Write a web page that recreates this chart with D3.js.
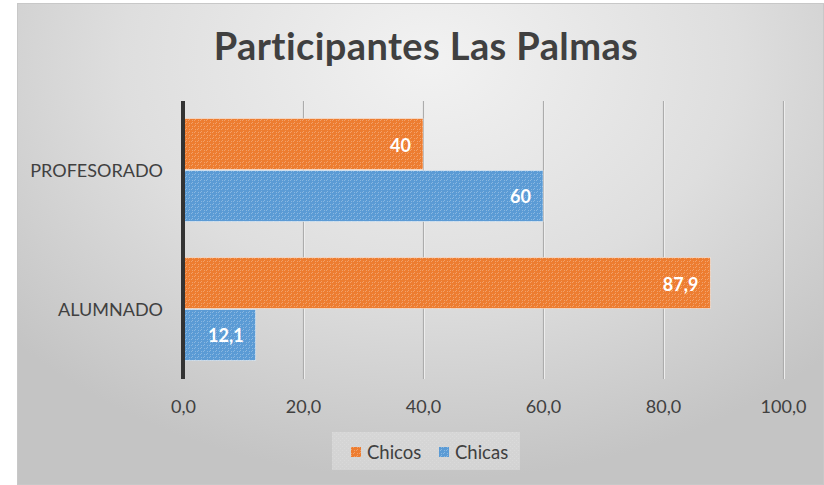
<!DOCTYPE html>
<html>
<head>
<meta charset="utf-8">
<script src="https://cdn.jsdelivr.net/npm/d3@7"></script>
<style>
  html, body { margin: 0; padding: 0; background: #ffffff; }
  svg { display: block; }
  text { font-family: Lato, "Open Sans", sans-serif; }
</style>
</head>
<body>
<svg id="chart" width="824" height="485"></svg>
<script>
// Participation by group, split by gender (percent)
const categories = ["PROFESORADO", "ALUMNADO"];
const seriesNames = ["Chicos", "Chicas"];
const chicos = [40, 87.9];
const chicas = [60, 12.1];
const tickValues = [0, 20, 40, 60, 80, 100];
const seriesColors = ["#ED7D31", "#5B9BD5"];

const fmt = v => (Number.isInteger(v) ? String(v) : v.toFixed(1).replace(".", ","));
const tickFmt = v => v.toFixed(1).replace(".", ",");

const svg = d3.select("#chart");
const defs = svg.append("defs");

// Chart area background: soft radial gray gradient
const bg = defs.append("radialGradient")
  .attr("id", "bgGrad")
  .attr("gradientUnits", "userSpaceOnUse")
  .attr("cx", 430).attr("cy", 60).attr("r", 560)
  .attr("gradientTransform", "translate(430,60) scale(1,0.75) translate(-430,-60)");
bg.append("stop").attr("offset", "0%").attr("stop-color", "#f2f2f2");
bg.append("stop").attr("offset", "55%").attr("stop-color", "#dedede");
bg.append("stop").attr("offset", "100%").attr("stop-color", "#c4c4c4");

// Fine textured fill for bars and legend swatches
function texture(id, base) {
  const p = defs.append("pattern")
    .attr("id", id)
    .attr("patternUnits", "userSpaceOnUse")
    .attr("width", 6).attr("height", 6);
  p.append("rect").attr("width", 6).attr("height", 6).attr("fill", base);
  const dots = [[0,0],[2,0],[0,2],[3,3],[5,3],[3,5]];
  dots.forEach(([dx, dy]) => {
    p.append("rect").attr("x", dx).attr("y", dy).attr("width", 1).attr("height", 1)
      .attr("fill", "#ffffff").attr("opacity", 0.28);
  });
  return `url(#${id})`;
}
const fills = [texture("texOrange", seriesColors[0]), texture("texBlue", seriesColors[1])];

// Legend area texture
const lp = defs.append("pattern")
  .attr("id", "texLegend").attr("patternUnits", "userSpaceOnUse")
  .attr("width", 4).attr("height", 4);
lp.append("rect").attr("width", 4).attr("height", 4).attr("fill", "#e4e4e4");
lp.append("rect").attr("x", 0).attr("y", 0).attr("width", 1).attr("height", 1).attr("fill", "#ffffff").attr("opacity", 0.5);
lp.append("rect").attr("x", 2).attr("y", 2).attr("width", 1).attr("height", 1).attr("fill", "#ffffff").attr("opacity", 0.5);

// Chart frame
svg.append("rect")
  .attr("x", 17.5).attr("y", 3.5).attr("width", 806).attr("height", 481)
  .attr("fill", "url(#bgGrad)")
  .attr("stroke", "#c8c8c8").attr("stroke-width", 1);

// Title
svg.append("text")
  .attr("x", 426).attr("y", 60)
  .attr("text-anchor", "middle")
  .attr("font-size", 38).attr("font-weight", "bold")
  .attr("letter-spacing", 0.4)
  .attr("fill", "#404040")
  .text("Participantes Las Palmas");

// Scales
const x = d3.scaleLinear().domain([0, 100]).range([183, 783]);
const y = d3.scaleBand().domain(categories).range([101, 379]).padding(0);
const ySub = d3.scaleBand().domain(seriesNames).range([0, y.bandwidth()])
  .paddingInner(0).paddingOuter(0.337);

// Vertical gridlines
const grid = svg.append("g");
tickValues.filter(t => t > 0).forEach(t => {
  grid.append("line")
    .attr("x1", x(t) + 1.5).attr("x2", x(t) + 1.5).attr("y1", 101).attr("y2", 379)
    .attr("stroke", "#f4f4f4").attr("stroke-width", 1);
  grid.append("line")
    .attr("x1", x(t) + 0.5).attr("x2", x(t) + 0.5).attr("y1", 101).attr("y2", 379)
    .attr("stroke", "#acacac").attr("stroke-width", 1.2);
});

// Bars
const rows = categories.map((c, i) => ({ cat: c, values: [chicos[i], chicas[i]] }));
const barG = svg.append("g");
rows.forEach(r => {
  r.values.forEach((v, si) => {
    const by = y(r.cat) + ySub(seriesNames[si]);
    const bh = ySub.bandwidth();
    barG.append("rect")
      .attr("x", x(0)).attr("y", by)
      .attr("width", x(v) - x(0)).attr("height", bh - 1)
      .attr("fill", fills[si])
      .attr("stroke", "#ffffff").attr("stroke-opacity", 0.45).attr("stroke-width", 1);
    barG.append("text")
      .attr("x", x(v) - 12).attr("y", by + bh / 2 + 7)
      .attr("text-anchor", "end")
      .attr("font-size", 18).attr("font-weight", "bold")
      .attr("fill", "#ffffff")
      .text(fmt(v));
  });
});

// Category axis line at zero
svg.append("line")
  .attr("x1", x(0)).attr("x2", x(0)).attr("y1", 101).attr("y2", 379)
  .attr("stroke", "#333333").attr("stroke-width", 4);

// Category labels
const yAxis = d3.axisLeft(y).tickSize(0).tickPadding(20);
const yg = svg.append("g").attr("transform", `translate(${x(0)},0)`).call(yAxis);
yg.select(".domain").remove();
yg.selectAll("text")
  .attr("font-family", "Lato, sans-serif")
  .attr("font-size", 18).attr("fill", "#404040")
  .attr("dy", "0.36em");

// Value axis tick labels
const xAxis = d3.axisBottom(x).tickValues(tickValues).tickFormat(tickFmt).tickSize(0).tickPadding(0);
const xg = svg.append("g").attr("transform", "translate(0,413)").call(xAxis);
xg.select(".domain").remove();
xg.selectAll("text")
  .attr("font-family", "Lato, sans-serif")
  .attr("font-size", 18).attr("fill", "#404040")
  .attr("dy", 0).attr("y", 0);

// Legend
svg.append("rect")
  .attr("x", 332).attr("y", 432).attr("width", 188).attr("height", 38)
  .attr("fill", "url(#texLegend)").attr("opacity", 0.45);
const legendX = [351, 439];
seriesNames.forEach((name, i) => {
  svg.append("rect")
    .attr("x", legendX[i]).attr("y", 447).attr("width", 10).attr("height", 10)
    .attr("fill", fills[i]);
  svg.append("text")
    .attr("x", legendX[i] + 16).attr("y", 459)
    .attr("font-size", 18.5).attr("fill", "#404040")
    .text(name);
});
</script>
</body>
</html>
